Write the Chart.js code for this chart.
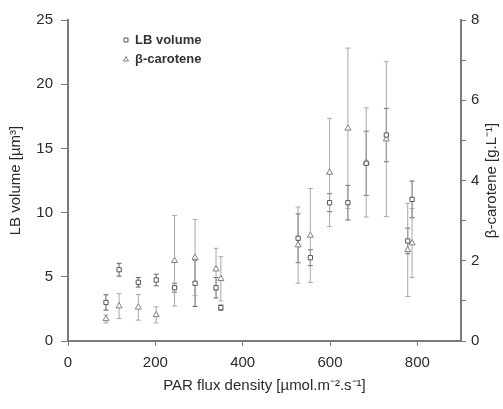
<!DOCTYPE html>
<html>
<head>
<meta charset="utf-8">
<script src="https://cdn.jsdelivr.net/npm/chart.js@4/dist/chart.umd.min.js"></script>
<style>
  html, body { margin: 0; padding: 0; background: #fff; }
  #wrap { width: 503px; height: 409px; }
</style>
</head>
<body>
<div id="wrap"><canvas id="parChart" width="503" height="409"></canvas></div>
<script>
// PAR flux density (x) for each culture
const parFlux = [87, 117, 161, 202, 244, 291, 339, 350, 527, 555, 599, 641, 683, 729, 788, 778];
// LB volume (left axis) and its error
const lbVolume = [3.0, 5.55, 4.57, 4.75, 4.15, 4.49, 4.15, 2.6, 8.0, 6.49, 10.77, 10.77, 13.84, 16.04, 11.03, 7.79];
const lbError = [0.6, 0.5, 0.37, 0.45, 0.35, 1.8, 0.8, 0.2, 1.9, 0.62, 0.7, 1.35, 2.5, 2.08, 1.43, 1.0];
// beta-carotene (right axis) and its error
const betaCarotene = [0.55, 0.87, 0.84, 0.65, 2.0, 2.08, 1.79, 1.55, 2.39, 2.63, 4.2, 5.3, 4.45, 5.03, 2.44, 2.27];
const betaError = [0.1, 0.31, 0.32, 0.2, 1.13, 0.95, 0.52, 0.55, 0.95, 1.17, 1.35, 2.0, 1.36, 1.93, 0.86, 1.16];

const xTicks = [0, 200, 400, 600, 800];
const leftTicks = [0, 5, 10, 15, 20, 25];
const rightTicks = [0, 1, 2, 3, 4, 5, 6, 7, 8];
const rightTitle = "β-carotene [g.L⁻¹]";

const FONT = "'Liberation Sans', Arial, sans-serif";
const AXIS = "#7a7a7a";
const TEXT = "#2a2a2a";

// error bars drawn under the markers
const errorBars = {
  id: "errorBars",
  beforeDatasetsDraw(chart) {
    const ctx = chart.ctx;
    const xs = chart.scales.x;
    chart.data.datasets.forEach((ds) => {
      const ys = chart.scales[ds.yAxisID];
      ctx.save();
      ctx.strokeStyle = ds.errColor;
      ctx.lineWidth = 1;
      ds.data.forEach((p, i) => {
        const e = ds.errors[i];
        const x = xs.getPixelForValue(p.x);
        const yt = ys.getPixelForValue(p.y + e);
        const yb = ys.getPixelForValue(p.y - e);
        ctx.beginPath();
        ctx.moveTo(x, yt);
        ctx.lineTo(x, yb);
        ctx.moveTo(x - 2.5, yt);
        ctx.lineTo(x + 2.5, yt);
        ctx.moveTo(x - 2.5, yb);
        ctx.lineTo(x + 2.5, yb);
        ctx.stroke();
      });
      ctx.restore();
    });
  },
};

// legend in the upper left of the plot, and the right axis title read bottom-up
const extras = {
  id: "extras",
  afterDraw(chart) {
    const ctx = chart.ctx;
    const area = chart.chartArea;
    ctx.save();
    ctx.font = "bold 13px " + FONT;
    ctx.textBaseline = "middle";
    chart.data.datasets.forEach((ds, i) => {
      const mx = area.left + 58;
      const my = area.top + 20 + i * 19;
      ctx.strokeStyle = ds.borderColor;
      ctx.fillStyle = "#fff";
      ctx.lineWidth = 1;
      ctx.beginPath();
      if (ds.pointStyle === "rect") {
        ctx.rect(mx - 2, my - 2, 4, 4);
      } else {
        ctx.moveTo(mx, my - 2.5);
        ctx.lineTo(mx + 2.5, my + 2);
        ctx.lineTo(mx - 2.5, my + 2);
        ctx.closePath();
      }
      ctx.fill();
      ctx.stroke();
      ctx.fillStyle = "#333";
      ctx.fillText(ds.label, mx + 9, my);
    });

    ctx.font = "15px " + FONT;
    ctx.fillStyle = TEXT;
    ctx.textAlign = "center";
    ctx.translate(492, (area.top + area.bottom) / 2);
    ctx.rotate(-Math.PI / 2);
    ctx.fillText(rightTitle, 0, 0);
    ctx.restore();
  },
};

function toPoints(xv, yv) {
  return xv.map((x, i) => ({ x: x, y: yv[i] }));
}

const ctx = document.getElementById("parChart").getContext("2d");
new Chart(ctx, {
  type: "scatter",
  data: {
    datasets: [
      {
        label: "LB volume",
        data: toPoints(parFlux, lbVolume),
        errors: lbError,
        errColor: "#666",
        yAxisID: "y",
        pointStyle: "rect",
        pointRadius: 3,
        borderColor: "#555",
        backgroundColor: "#fff",
        borderWidth: 1,
      },
      {
        label: "β-carotene",
        data: toPoints(parFlux, betaCarotene),
        errors: betaError,
        errColor: "#a8a8a8",
        yAxisID: "y1",
        pointStyle: "triangle",
        pointRadius: 3.5,
        borderColor: "#808080",
        backgroundColor: "#fff",
        borderWidth: 1,
      },
    ],
  },
  options: {
    responsive: false,
    animation: false,
    layout: { padding: { top: 20, right: 0, left: 0, bottom: 0 } },
    plugins: {
      legend: { display: false },
      tooltip: { enabled: false },
    },
    scales: {
      x: {
        type: "linear",
        min: 0,
        max: 900,
        afterBuildTicks: (s) => { s.ticks = xTicks.map((v) => ({ value: v })); },
        afterFit: (s) => { s.height = 68; },
        border: { display: true, color: AXIS, width: 2 },
        grid: { drawOnChartArea: false, drawTicks: true, tickLength: 5, color: AXIS },
        ticks: { color: TEXT, font: { family: FONT, size: 15 }, padding: 8 },
        title: {
          display: true,
          text: "PAR flux density [µmol.m⁻².s⁻¹]",
          color: TEXT,
          font: { family: FONT, size: 15 },
          padding: { top: 4, bottom: 14 },
        },
      },
      y: {
        type: "linear",
        position: "left",
        min: 0,
        max: 25,
        afterBuildTicks: (s) => { s.ticks = leftTicks.map((v) => ({ value: v })); },
        afterFit: (s) => { s.width = 68; },
        border: { display: true, color: AXIS, width: 2 },
        grid: { drawOnChartArea: false, drawTicks: true, tickLength: 7, color: AXIS },
        ticks: { color: TEXT, font: { family: FONT, size: 15 }, padding: 8 },
        title: {
          display: true,
          text: "LB volume [µm³]",
          color: TEXT,
          font: { family: FONT, size: 15 },
          padding: { top: 7, bottom: 2 },
        },
      },
      y1: {
        type: "linear",
        position: "right",
        min: 0,
        max: 8,
        afterBuildTicks: (s) => { s.ticks = rightTicks.map((v) => ({ value: v })); },
        afterFit: (s) => { s.width = 42; },
        border: { display: true, color: AXIS, width: 2 },
        grid: { drawOnChartArea: false, drawTicks: true, tickLength: 5, color: AXIS },
        ticks: {
          color: TEXT,
          font: { family: FONT, size: 15 },
          padding: 5,
          autoSkip: false,
          callback: (v) => (v % 2 === 0 ? v : ""),
        },
        title: { display: false },
      },
    },
  },
  plugins: [errorBars, extras],
});
</script>
</body>
</html>
